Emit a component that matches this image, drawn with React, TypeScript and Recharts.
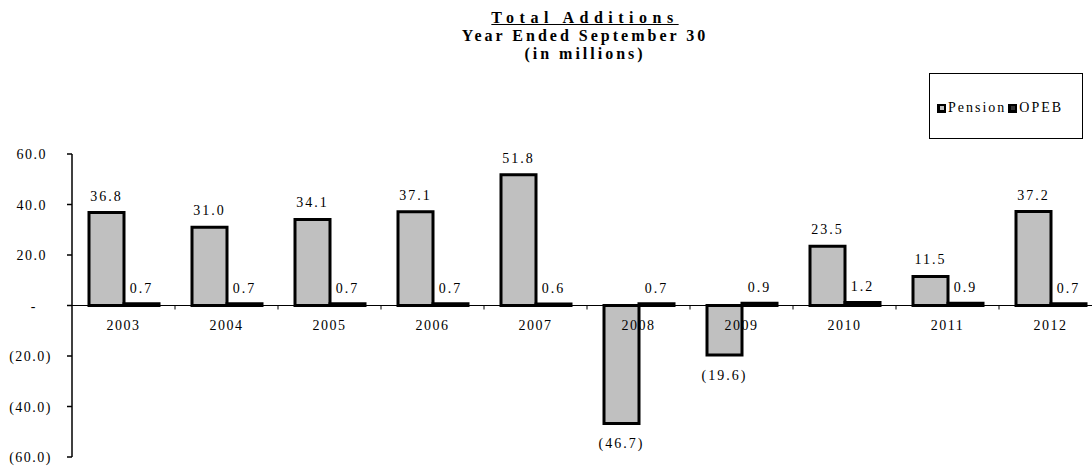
import { BarChart, Bar, XAxis, YAxis, ReferenceLine, LabelList, Legend } from "recharts";

const years = ["2003", "2004", "2005", "2006", "2007", "2008", "2009", "2010", "2011", "2012"];
const pension = [36.8, 31.0, 34.1, 37.1, 51.8, -46.7, -19.6, 23.5, 11.5, 37.2];
const opeb = [0.7, 0.7, 0.7, 0.7, 0.6, 0.7, 0.9, 1.2, 0.9, 0.7];
const yTicks = [-60, -40, -20, 0, 20, 40, 60];

const data = years.map((year, i) => ({ year, pension: pension[i], opeb: opeb[i] }));

const FONT = "'Liberation Serif', 'DejaVu Serif', serif";
const W = 1104;
const H = 466;
const M = { top: 154, right: 2, bottom: 8, left: 0 };
const X_H = 1;
const Y_W = 72;
const ZERO_Y = M.top + (H - M.top - M.bottom - X_H) / 2;
const BAND = (W - M.right - M.left - Y_W) / years.length;

const fmt = (v: number) =>
  v === 0 ? "-" : v < 0 ? `(${Math.abs(v).toFixed(1)})` : v.toFixed(1);

const YTick = (p: any) => {
  const v = p.payload.value;
  const x = v > 0 ? 47 : v < 0 ? 52 : 37;
  return (
    <text x={x} y={p.y} dy={5} textAnchor="end" fontFamily={FONT} fontSize={14} fill="#000" letterSpacing={1.5}>
      {fmt(v)}
    </text>
  );
};

const XTick = (p: any) => {
  const last = p.index === years.length - 1;
  return (
    <g>
      <text x={p.x} y={ZERO_Y + 24} textAnchor="middle" fontFamily={FONT} fontSize={14} fill="#000" letterSpacing={1.5}>
        {p.payload.value}
      </text>
      {!last && (
        <line x1={p.x + BAND / 2} x2={p.x + BAND / 2} y1={ZERO_Y} y2={ZERO_Y + 4} stroke="#000" strokeWidth={1} />
      )}
    </g>
  );
};

const PensionLabel = (p: any) => {
  const { x, y, width, height, value } = p;
  const top = Math.min(y, y + height);
  const bottom = Math.max(y, y + height);
  const ty = value < 0 ? bottom + 25 : top - 12;
  return (
    <text x={x + width / 2} y={ty} textAnchor="middle" fontFamily={FONT} fontSize={14} fill="#000" letterSpacing={2}>
      {fmt(value)}
    </text>
  );
};

const OpebLabel = (p: any) => {
  const { x, y, width, height, value } = p;
  const top = Math.min(y, y + height);
  return (
    <text x={x + width / 2} y={top - 11} textAnchor="middle" fontFamily={FONT} fontSize={14} fill="#000" letterSpacing={2}>
      {fmt(value)}
    </text>
  );
};

const Swatch = ({ inner }: { inner: string }) => (
  <span
    style={{
      width: 9,
      height: 9,
      background: "#000",
      display: "inline-flex",
      alignItems: "center",
      justifyContent: "center",
      marginRight: 2,
    }}
  >
    <span style={{ width: 4, height: 4, background: inner }} />
  </span>
);

const LegendBox = () => (
  <div
    style={{
      width: 154,
      height: 66,
      boxSizing: "border-box",
      border: "1.5px solid #000",
      display: "flex",
      alignItems: "center",
      paddingLeft: 7,
      paddingTop: 4,
      fontFamily: FONT,
      fontSize: 14,
      letterSpacing: 2,
      color: "#000",
      whiteSpace: "nowrap",
    }}
  >
    <Swatch inner="#c0c0c0" />
    <span style={{ marginRight: 2 }}>Pension</span>
    <Swatch inner="#333" />
    <span>OPEB</span>
  </div>
);

export default function App() {
  return (
    <div style={{ position: "absolute", left: 0, top: 0, width: 1092, height: 466, overflow: "hidden", background: "#fff" }}>
      <div
        style={{
          position: "absolute",
          left: 385,
          top: 9,
          width: 400,
          textAlign: "center",
          fontFamily: FONT,
          fontWeight: "bold",
          fontSize: 16,
          lineHeight: "18px",
          color: "#000",
          zIndex: 2,
        }}
      >
        <div style={{ letterSpacing: 5.5, textDecoration: "underline" }}>Total Additions</div>
        <div style={{ letterSpacing: 3 }}>Year Ended September 30</div>
        <div style={{ letterSpacing: 3 }}>(in millions)</div>
      </div>
      <BarChart width={W} height={H} data={data} margin={M} barGap={0} barSize={35}>
        <YAxis
          domain={[-60, 60]}
          ticks={yTicks}
          width={Y_W}
          axisLine={{ stroke: "#000", strokeWidth: 1.5 }}
          tickLine={{ stroke: "#000", strokeWidth: 1.5 }}
          tickSize={5}
          tick={<YTick />}
          interval={0}
        />
        <XAxis dataKey="year" height={X_H} axisLine={false} tickLine={false} tick={<XTick />} interval={0} />
        <Legend
          layout="horizontal"
          verticalAlign="middle"
          align="center"
          content={<LegendBox />}
          wrapperStyle={{ position: "absolute", top: 73, left: 929, width: 154, height: 66 }}
        />
        <Bar dataKey="pension" fill="#c0c0c0" stroke="#000" strokeWidth={3} isAnimationActive={false}>
          <LabelList dataKey="pension" content={<PensionLabel />} />
        </Bar>
        <Bar dataKey="opeb" fill="#000" stroke="#000" strokeWidth={3} isAnimationActive={false}>
          <LabelList dataKey="opeb" content={<OpebLabel />} />
        </Bar>
        <ReferenceLine y={0} stroke="#000" strokeWidth={1.2} />
      </BarChart>
    </div>
  );
}
